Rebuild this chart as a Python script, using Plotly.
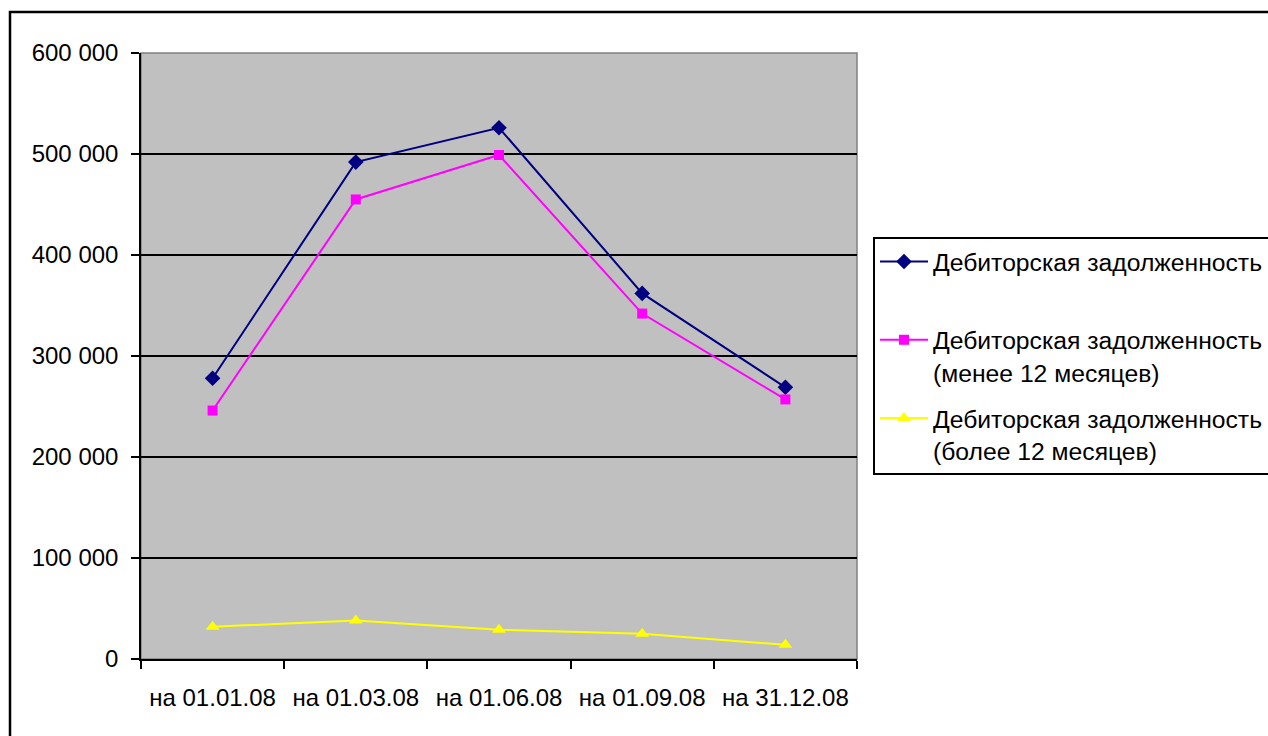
import plotly.graph_objects as go

categories = ["на 01.01.08", "на 01.03.08", "на 01.06.08", "на 01.09.08", "на 31.12.08"]
total = [278000, 492000, 526000, 362000, 269000]
less12 = [246000, 455000, 499000, 342000, 257000]
more12 = [32000, 38000, 29000, 25000, 14000]
names = ["Дебиторская задолженность<br> ",
         "Дебиторская задолженность<br>(менее 12 месяцев)",
         "Дебиторская задолженность<br>(более 12 месяцев)"]
ytickvals = [0, 100000, 200000, 300000, 400000, 500000, 600000]
yticktext = ["0", "100 000", "200 000", "300 000", "400 000", "500 000", "600 000"]

W, H = 1268, 736
L, R, T, B = 141, 857, 53, 659

fig = go.Figure()
fig.add_trace(go.Scatter(x=categories, y=total, name=names[0], mode="lines+markers",
                         legendgroup="g1",
                         line=dict(color="#000080", width=2),
                         marker=dict(symbol="diamond", size=12, color="#000080")))
fig.add_trace(go.Scatter(x=categories, y=less12, name=names[1], mode="lines+markers",
                         legendgroup="g2",
                         line=dict(color="#FF00FF", width=2),
                         marker=dict(symbol="square", size=10, color="#FF00FF")))
fig.add_trace(go.Scatter(x=categories, y=more12, name=names[2], mode="lines+markers",
                         legendgroup="g3",
                         line=dict(color="#FFFF00", width=2),
                         marker=dict(symbol="triangle-up", size=12, color="#FFFF00")))

def px(x):
    return (x - L) / (R - L)

def py(y):
    return (B - y) / (B - T)

fig.update_layout(
    width=W, height=H,
    margin=dict(l=L, r=W - R, t=T, b=H - B, pad=0, autoexpand=False),
    paper_bgcolor="white",
    plot_bgcolor="#C0C0C0",
    font=dict(family="Liberation Sans, Arial", size=24, color="black"),
    showlegend=True,
    legend=dict(x=px(873), y=py(237), xanchor="left", yanchor="top",
                bgcolor="white", bordercolor="black", borderwidth=2,
                font=dict(size=24.7), valign="top", itemwidth=48,
                traceorder="grouped", tracegroupgap=11),
    xaxis=dict(type="category", range=[-0.5, 4.5], showgrid=False, zeroline=False,
               showline=True, linecolor="black", linewidth=1.5,
               ticks="outside", ticklen=8, tickcolor="black", tickwidth=1.5,
               tickson="boundaries", ticklabelstandoff=16, fixedrange=True),
    yaxis=dict(range=[0, 600000], tickvals=ytickvals, ticktext=yticktext,
               showgrid=True, gridcolor="black", gridwidth=1.5, zeroline=False,
               showline=True, linecolor="black", linewidth=1.5,
               ticks="outside", ticklen=8, tickcolor="black", tickwidth=1.5,
               ticklabelstandoff=8, fixedrange=True),
)

# plot area border (gray)
fig.add_shape(type="rect", xref="paper", yref="paper", x0=0, x1=1, y0=0, y1=1,
              line=dict(color="#808080", width=1.5), layer="below")
# outer chart frame
fig.add_shape(type="rect", xref="paper", yref="paper",
              x0=px(10), x1=px(1275), y0=py(745), y1=py(12),
              line=dict(color="black", width=2.5))

fig.write_html("out.html", config={"displayModeBar": False},
               post_script="document.body.style.margin='0';document.body.style.overflow='hidden';")
